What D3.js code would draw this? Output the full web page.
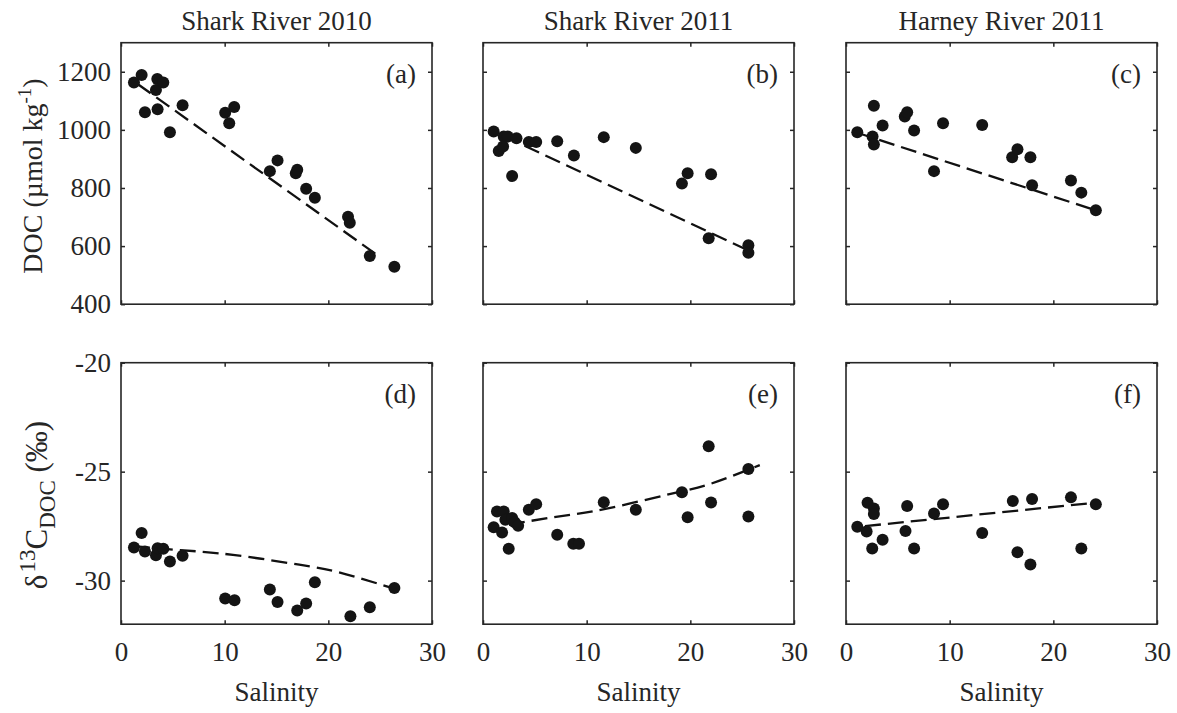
<!DOCTYPE html>
<html>
<head>
<meta charset="utf-8">
<script src="https://cdn.jsdelivr.net/npm/d3@7"></script>
<style>
  body { margin: 0; background: #fff; }
  svg, svg text { font-family: "Liberation Serif", Tinos, "Times New Roman", Times, "DejaVu Serif", serif !important; }
  text { fill: #262626; }
</style>
</head>
<body>
<svg id="chart" width="1177" height="713"></svg>
<script>
// salinity / DOC / d13C values
const salA = [1.25, 1.99, 2.31, 3.5, 3.37, 4.08, 3.53, 4.72, 5.94, 10.05, 10.44, 10.92, 14.36, 15.1, 16.86, 17.0, 17.86, 18.7, 21.9, 22.07, 24.0, 26.37];
const docA = [1163, 1189, 1061, 1175, 1137, 1163, 1071, 992, 1085, 1059, 1023, 1079, 858, 895, 851, 863, 797, 766, 701, 680, 566, 529];

const salB = [1.03, 2.0, 2.39, 1.52, 1.94, 3.23, 2.81, 4.42, 5.13, 7.16, 8.77, 11.65, 14.74, 19.19, 19.74, 22.0, 21.77, 25.6, 25.6];
const docB = [994, 977, 977, 927, 943, 971, 841, 958, 958, 961, 912, 975, 938, 815, 851, 847, 627, 603, 577];

const salC = [1.09, 2.69, 2.56, 2.69, 3.53, 5.67, 5.9, 6.57, 8.49, 9.36, 13.14, 16.03, 16.54, 17.79, 17.95, 21.7, 22.7, 24.1];
const docC = [992, 1083, 977, 950, 1015, 1046, 1061, 998, 858, 1023, 1017, 906, 933, 906, 809, 826, 784, 723];

const salD = [1.25, 1.99, 2.31, 3.37, 3.53, 4.08, 4.72, 5.94, 10.05, 10.95, 14.36, 15.1, 17.0, 17.86, 18.7, 22.13, 24.0, 26.37];
const d13D = [-28.48, -27.82, -28.66, -28.84, -28.51, -28.54, -29.12, -28.86, -30.82, -30.9, -30.41, -30.98, -31.37, -31.05, -30.08, -31.63, -31.22, -30.34];

const salE = [1.03, 1.35, 2.0, 1.84, 2.16, 2.81, 3.06, 3.39, 2.48, 4.42, 5.13, 7.16, 8.71, 9.26, 11.65, 14.74, 19.19, 19.74, 21.77, 22.0, 25.6, 25.6];
const d13E = [-27.55, -26.83, -26.83, -27.79, -27.21, -27.13, -27.32, -27.48, -28.54, -26.75, -26.49, -27.9, -28.31, -28.31, -26.4, -26.75, -25.95, -27.09, -23.83, -26.42, -24.88, -27.06];

const salF = [1.09, 2.08, 2.69, 2.69, 1.99, 2.53, 3.53, 5.9, 5.74, 6.57, 8.49, 9.36, 13.14, 16.09, 16.54, 17.95, 17.79, 21.7, 22.7, 24.1];
const d13F = [-27.53, -26.43, -26.69, -26.94, -27.75, -28.53, -28.13, -26.58, -27.72, -28.53, -26.92, -26.5, -27.81, -26.35, -28.7, -26.26, -29.26, -26.18, -28.53, -26.5];

// fitted (dashed) curves, read as [salinity, value]
const fitA = [[1.6, 1158], [25.0, 562]];
const fitB = [[2.0, 979], [25.6, 585]];
const fitC = [[1.09, 990], [24.1, 723]];
const fitD = [[1.25, -28.42], [5.7, -28.6], [10.8, -28.82], [17.2, -29.27], [21, -29.62], [24.8, -30.14], [26.4, -30.38]];
const fitE = [[2.5, -27.44], [6.8, -27.09], [11.7, -26.72], [18.1, -26.02], [22, -25.55], [26.7, -24.7]];
const fitF = [[1.83, -27.5], [23.9, -26.43]];

const titles = ["Shark River 2010", "Shark River 2011", "Harney River 2011"];
const letters = ["(a)", "(b)", "(c)", "(d)", "(e)", "(f)"];
const xTicks = [0, 10, 20, 30];
const docTicks = [400, 600, 800, 1000, 1200];
const d13Ticks = [-30, -25, -20];

const FONT = '"Liberation Serif", Tinos, "Times New Roman", Times, "DejaVu Serif", serif';
const svg = d3.select("#chart").attr("font-family", FONT);
const FS = 27;
const ink = "#262626";
const lefts = [121, 483, 846];
const tops = [42.7, 362.7];
const W = 311, H = 261.5;

const panels = [
  { sal: salA, val: docA, fit: fitA, row: 0, col: 0 },
  { sal: salB, val: docB, fit: fitB, row: 0, col: 1 },
  { sal: salC, val: docC, fit: fitC, row: 0, col: 2 },
  { sal: salD, val: d13D, fit: fitD, row: 1, col: 0 },
  { sal: salE, val: d13E, fit: fitE, row: 1, col: 1 },
  { sal: salF, val: d13F, fit: fitF, row: 1, col: 2 }
];

panels.forEach((p, i) => {
  const x0 = lefts[p.col], y0 = tops[p.row];
  const g = svg.append("g").attr("transform", `translate(${x0},${y0})`);
  const x = d3.scaleLinear().domain([0, 30]).range([0, W]);
  const y = p.row === 0
    ? d3.scaleLinear().domain([400, 1300]).range([H, 0])
    : d3.scaleLinear().domain([-32, -20]).range([H, 0]);
  const yt = p.row === 0 ? docTicks : d13Ticks;

  // axes, ticks pointing inward on all four sides
  const showY = p.col === 0, showX = p.row === 1;
  const axL = g.append("g").call(d3.axisLeft(y).tickValues(yt).tickSize(-4).tickPadding(10)
    .tickFormat(showY ? d3.format("d") : () => ""));
  const axR = g.append("g").attr("transform", `translate(${W},0)`)
    .call(d3.axisRight(y).tickValues(yt).tickSize(-4).tickFormat(() => ""));
  const axB = g.append("g").attr("transform", `translate(0,${H})`)
    .call(d3.axisBottom(x).tickValues(xTicks).tickSize(-4).tickPadding(18)
      .tickFormat(showX ? d3.format("d") : () => ""));
  const axT = g.append("g").call(d3.axisTop(x).tickValues(xTicks).tickSize(-4).tickFormat(() => ""));
  [axL, axR, axB, axT].forEach(a => {
    a.attr("font-family", FONT).attr("font-size", FS);
    a.select(".domain").remove();
    a.selectAll("line").attr("stroke", ink).attr("stroke-width", 1.5);
    a.selectAll("text").attr("fill", ink);
  });
  // plain hyphen minus like the original
  axL.selectAll("text").text(d => showY ? String(d) : "");

  g.append("rect").attr("width", W).attr("height", H)
    .attr("fill", "none").attr("stroke", ink).attr("stroke-width", 1.6);

  // dashed fit
  g.append("path").datum(p.fit)
    .attr("d", d3.line().x(d => x(d[0])).y(d => y(d[1])).curve(d3.curveNatural))
    .attr("fill", "none").attr("stroke", "#111").attr("stroke-width", 2.3)
    .attr("stroke-dasharray", "16,7");

  g.selectAll("circle.pt").data(p.sal).join("circle")
    .attr("class", "pt")
    .attr("cx", d => x(d)).attr("cy", (d, k) => y(p.val[k]))
    .attr("r", 6).attr("fill", "#141414");

  g.append("text").attr("x", W - 16).attr("y", 40).attr("text-anchor", "end")
    .attr("font-size", FS).text(letters[i]);

  if (p.row === 0) {
    g.append("text").attr("x", W / 2).attr("y", 30 - y0).attr("text-anchor", "middle")
      .attr("font-size", FS).text(titles[p.col]);
  } else {
    g.append("text").attr("x", W / 2).attr("y", 701 - y0).attr("text-anchor", "middle")
      .attr("font-size", FS).text("Salinity");
  }
});

// y axis titles
const yl1 = svg.append("text").attr("transform", "translate(42,176) rotate(-90)")
  .attr("text-anchor", "middle").attr("font-size", 28);
yl1.append("tspan").text("DOC (\u00b5mol kg");
yl1.append("tspan").attr("font-size", 19).attr("dy", -11).text("-1");
yl1.append("tspan").attr("dy", 11).text(")");

const yl2 = svg.append("text").attr("transform", "translate(47,505) rotate(-90)")
  .attr("text-anchor", "middle").attr("font-size", 31);
yl2.append("tspan").text("\u03b4");
yl2.append("tspan").attr("font-size", 23).attr("dy", -12).attr("dx", 2).text("13");
yl2.append("tspan").attr("dy", 12).text("C");
yl2.append("tspan").attr("font-size", 23).attr("dy", 8).text("DOC");
yl2.append("tspan").attr("dy", -8).text(" (\u2030)");
</script>
</body>
</html>
